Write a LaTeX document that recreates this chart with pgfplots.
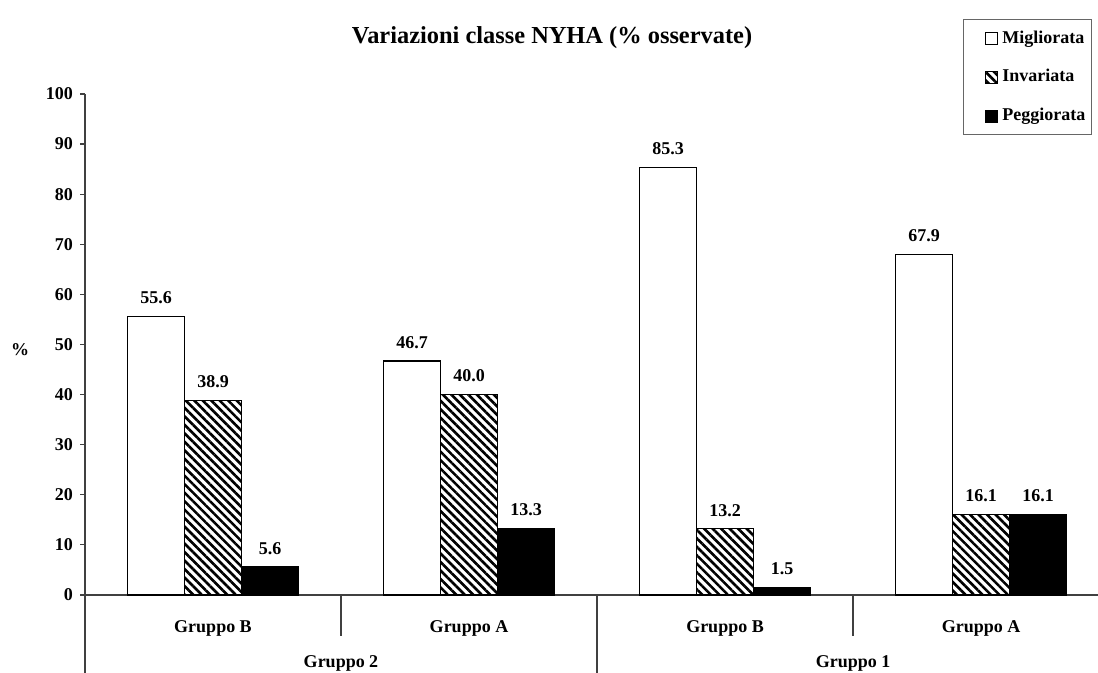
\documentclass[border=0pt]{standalone}
\usepackage{fontspec}
\setmainfont{Liberation Serif}
\usepackage{pgfplots}
\pgfplotsset{compat=1.18}
\usetikzlibrary{patterns.meta}
\pgfplotsset{sqlegend/.style={legend image code/.code={\path (0pt,0pt); \draw[##1] (10pt,-3pt) rectangle (16pt,3pt);}}}
\begin{document}
\begin{tikzpicture}[font=\bfseries]
\useasboundingbox (0,0) rectangle (549pt,336.5pt);
\begin{axis}[
  at={(42.5pt,39pt)}, anchor=south west,
  scale only axis, width=506.5pt, height=250.5pt,
  xmin=-0.5, xmax=3.457, ymin=0, ymax=100,
  ybar=0pt, bar width=28.5pt,
  clip=false,
  axis x line*=bottom, axis y line*=left,
  axis line style={black!75, line width=0.6pt},
  xtick={0,1,2,3},
  xticklabels={Gruppo B, Gruppo A, Gruppo B, Gruppo A},
  x tick style={draw=none},
  ytick={0,10,...,100},
  tick align=outside, major tick length=2.5pt,
  y tick style={black!75, line width=0.6pt},
  /pgf/number format/assume math mode=true,
  tick label style={font=\bfseries\fontsize{9}{10}\selectfont},
  x tick label style={yshift=-7pt},
  nodes near coords={\pgfmathprintnumber[fixed,fixed zerofill,precision=1,assume math mode=true]{\pgfplotspointmeta}},
  every node near coord/.append style={font=\bfseries\fontsize{9}{10}\selectfont, anchor=south, inner sep=0pt, yshift=6pt},
  legend style={at={(rel axis cs:0.9941,1.1497)}, anchor=north east, draw=black!60, line width=0.6pt,
    font=\bfseries\fontsize{9}{10}\selectfont, row sep=7.7pt, inner xsep=1pt, inner ysep=3.5pt},
  legend cell align=left,
]
\addplot[draw=black, fill=white, line width=0.6pt, sqlegend]
  coordinates {(0,55.6) (1,46.7) (2,85.3) (3,67.9)};
\addplot[draw=black, line width=0.6pt, pattern={Lines[angle=-45,distance=3pt,line width=1.3pt]}, sqlegend]
  coordinates {(0,38.9) (1,40.0) (2,13.2) (3,16.1)};
\addplot[draw=black, fill=black, line width=0.6pt, sqlegend]
  coordinates {(0,5.6) (1,13.3) (2,1.5) (3,16.1)};
\legend{Migliorata, Invariata, Peggiorata}
\draw[black!75, line width=0.6pt] (axis cs:-0.5,0) -- (axis cs:-0.5,-15.6);
\draw[black!75, line width=0.6pt] (axis cs:1.5,0) -- (axis cs:1.5,-15.6);
\draw[black!75, line width=0.6pt] (axis cs:0.5,0) -- (axis cs:0.5,-8.2);
\draw[black!75, line width=0.6pt] (axis cs:2.5,0) -- (axis cs:2.5,-8.2);
\node[font=\bfseries\fontsize{9}{10}\selectfont] at (axis cs:0.5,-13.6) {Gruppo 2};
\node[font=\bfseries\fontsize{9}{10}\selectfont] at (axis cs:2.5,-13.6) {Gruppo 1};
\end{axis}
\node[font=\bfseries\fontsize{12.2}{14}\selectfont] at (276pt,317.5pt) {Variazioni classe NYHA (\% osservate)};
\node[font=\bfseries\fontsize{9}{10}\selectfont] at (10pt,161.5pt) {\%};
\end{tikzpicture}
\end{document}
